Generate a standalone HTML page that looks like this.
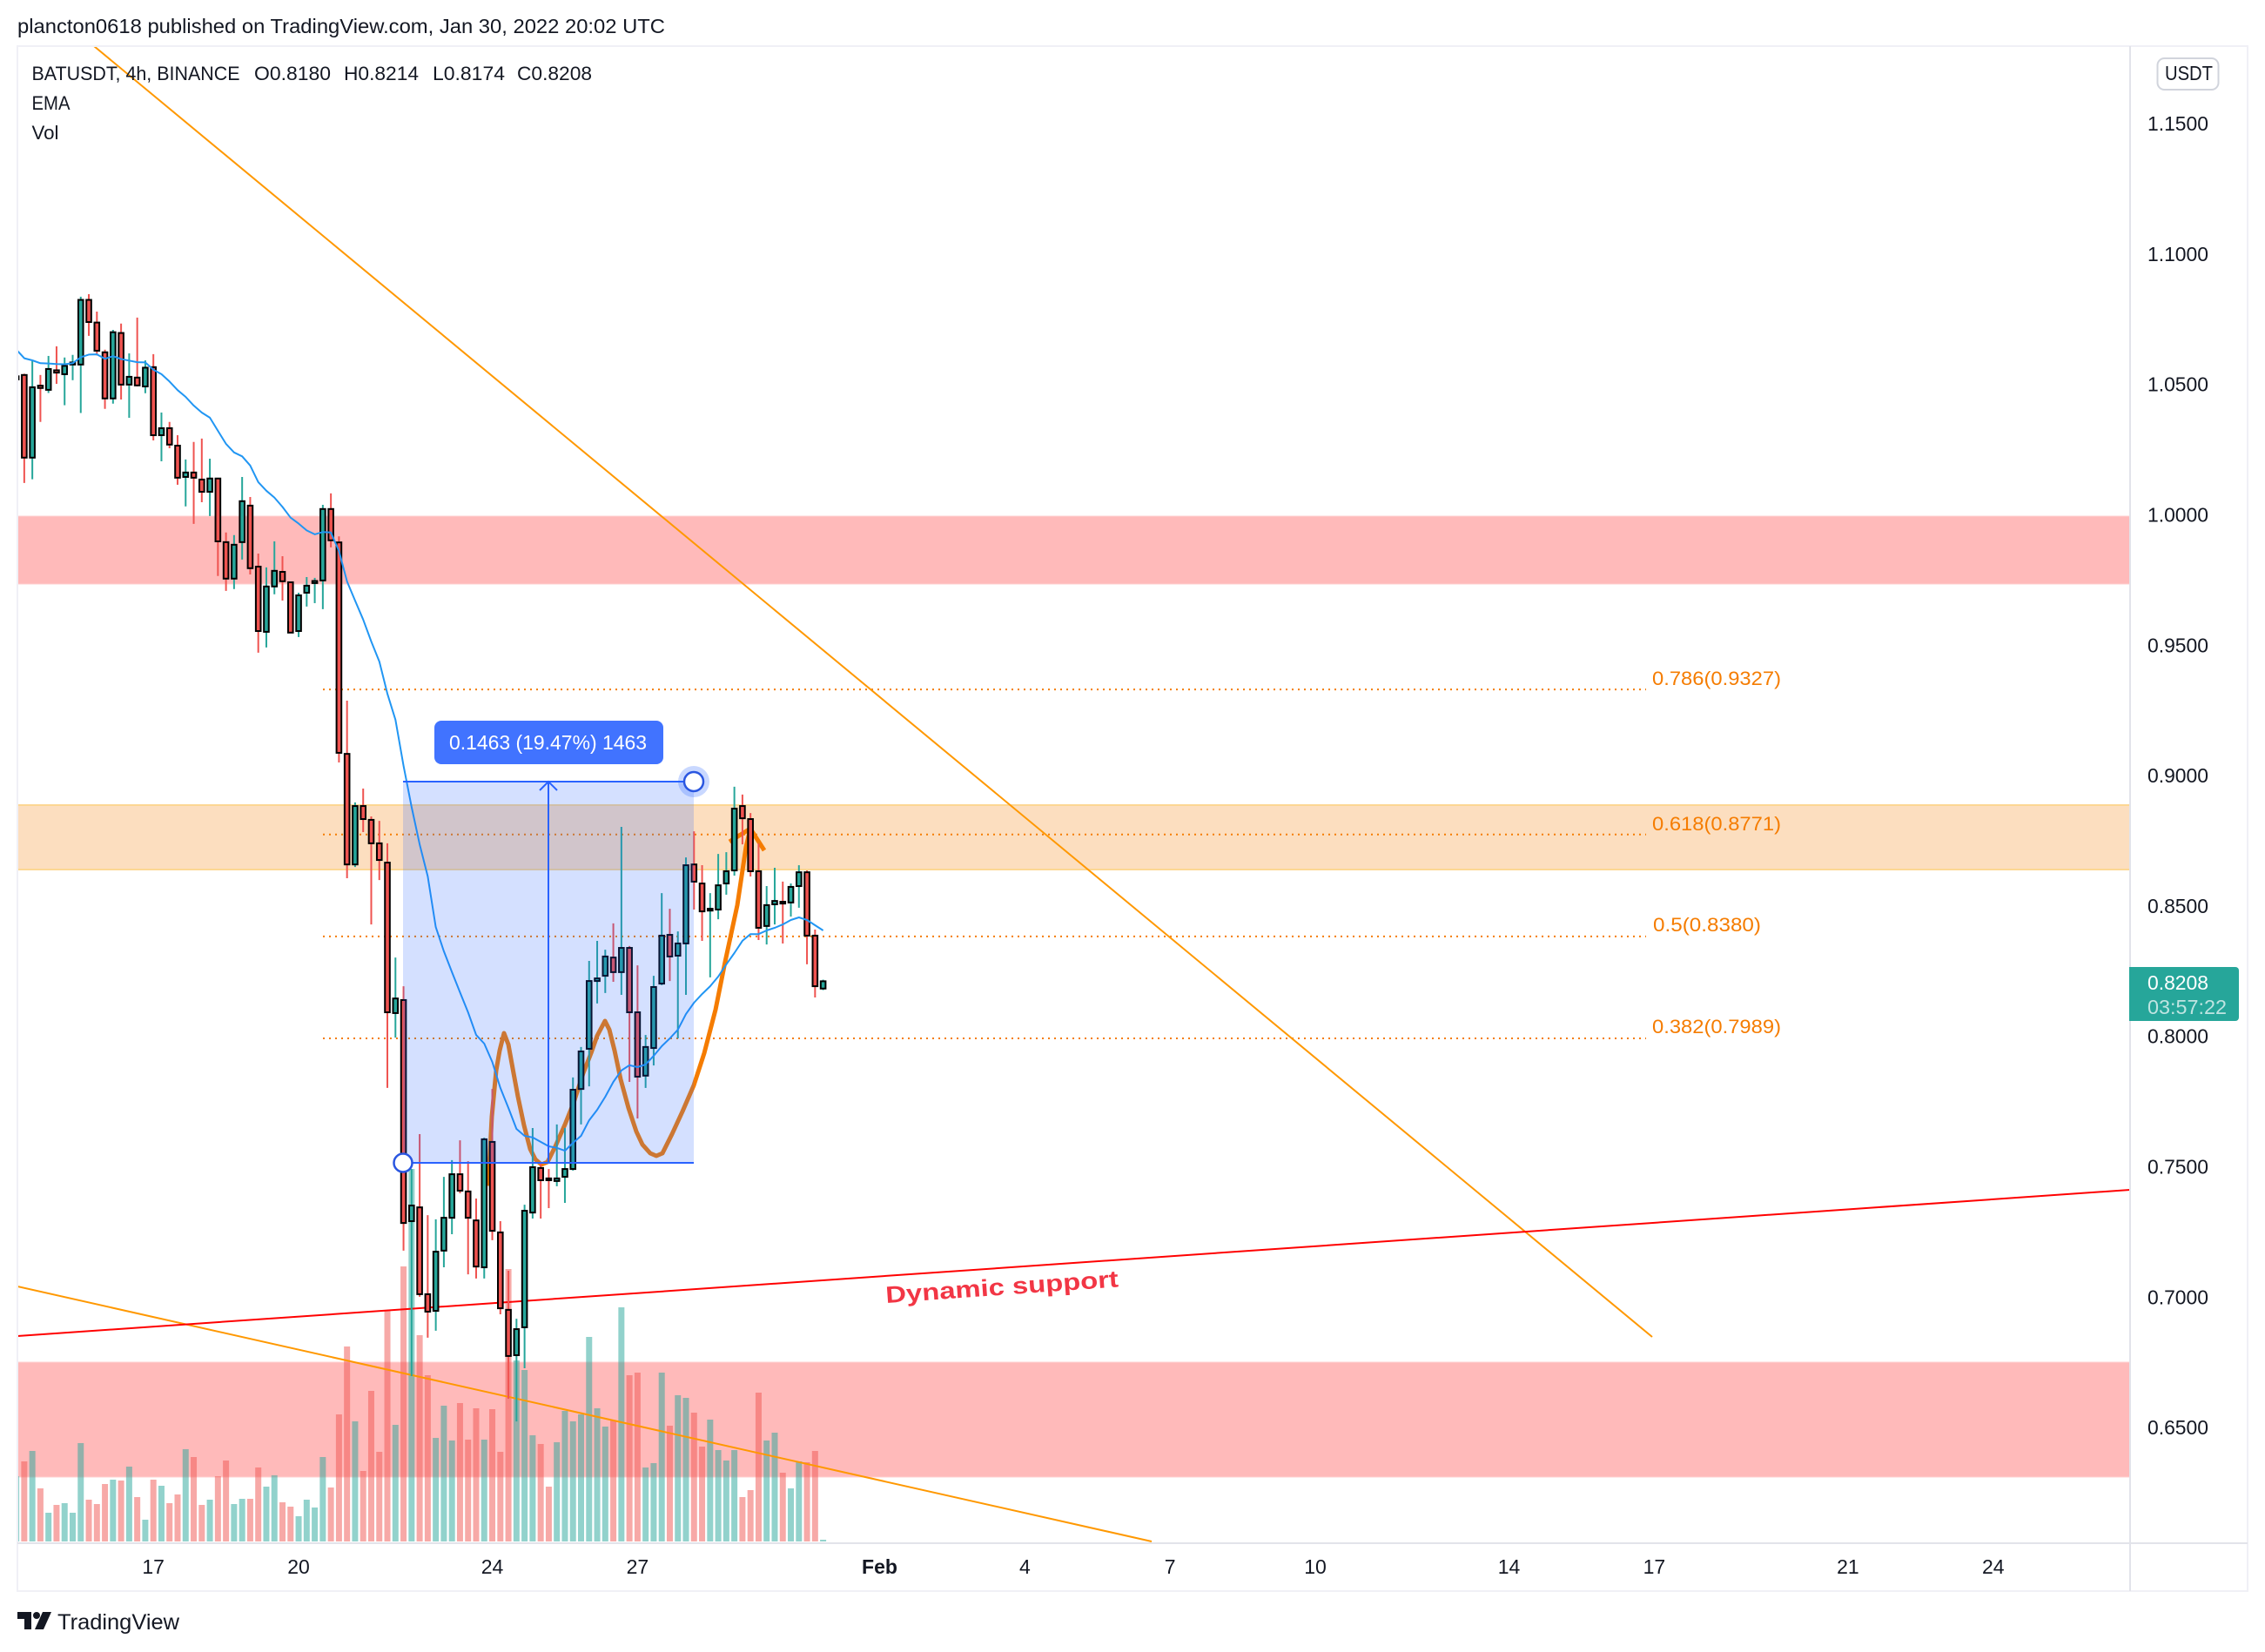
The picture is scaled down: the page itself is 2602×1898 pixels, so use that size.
<!DOCTYPE html>
<html lang="en">
<head>
<meta charset="utf-8">
<title>BATUSDT 4h chart</title>
<style>
html,body{margin:0;padding:0;background:#fff;width:2602px;height:1898px;overflow:hidden}
svg{display:block}
text{font-family:"Liberation Sans",sans-serif;fill:#131722}
</style>
</head>
<body>
<svg id="chart" xmlns="http://www.w3.org/2000/svg" width="2602" height="1898" viewBox="0 0 2602 1898">
  <defs>
    <clipPath id="plot-clip"><rect x="20" y="53" width="2427" height="1719"/></clipPath>
  </defs>
  <rect x="0" y="0" width="2602" height="1898" fill="#ffffff"/>

  <text x="20" y="38" font-size="23" textLength="744" lengthAdjust="spacingAndGlyphs">plancton0618 published on TradingView.com, Jan 30, 2022 20:02 UTC</text>

  <g clip-path="url(#plot-clip)">
    <rect x="20" y="593" width="2427" height="78" fill="#ff5252" fill-opacity="0.4" stroke="#ffd0d0" stroke-width="1"/>
    <rect x="20" y="925" width="2427" height="74" fill="#f57c00" fill-opacity="0.25" stroke="#fcd793" stroke-width="2"/>
    <rect x="20" y="1565" width="2427" height="132" fill="#ff5252" fill-opacity="0.4" stroke="#ffd0d0" stroke-width="1"/>

    <g id="volume-layer"></g>
    <g id="fib-layer"></g>

    <line x1="108" y1="53" x2="1898" y2="1536" stroke="#ff9800" stroke-width="2"/>
    <line x1="20" y1="1478" x2="1323" y2="1771" stroke="#ff9800" stroke-width="2"/>
    <line x1="20" y1="1535" x2="2447" y2="1367" stroke="#ff0000" stroke-width="2"/>

    <polyline fill="none" stroke="#f57c00" stroke-width="5" stroke-linejoin="round" stroke-linecap="round"
      points="561,1360 565,1283 570,1230 574,1207 579,1187 584,1200 590,1233 595,1260 602,1293 609,1320 615,1332 622,1338 629,1335 638,1317 649,1292 659,1267 670,1233 679,1210 686,1190 695,1173 700,1183 706,1207 713,1240 722,1273 731,1300 738,1315 747,1325 754,1328 761,1325 772,1303 784,1277 797,1247 809,1210 822,1160 833,1105 847,1040 857,973 862,952"/>
    <polyline fill="none" stroke="#f57c00" stroke-width="5" stroke-linejoin="round" points="838,967 862,952 878,977"/>

    <g id="candle-layer"></g>
    <polyline id="ema-line" fill="none" stroke="#2196f3" stroke-width="2" stroke-linejoin="round"/>

    <rect x="463" y="898" width="334" height="438" fill="#2962ff" fill-opacity="0.2"/>
    <line x1="463" y1="898" x2="797" y2="898" stroke="#2962ff" stroke-width="2"/>
    <line x1="463" y1="1336" x2="797" y2="1336" stroke="#2962ff" stroke-width="2"/>
    <line x1="630" y1="1336" x2="630" y2="899" stroke="#2962ff" stroke-width="2"/>
    <polyline points="620,908 630,898 640,908" fill="none" stroke="#2962ff" stroke-width="2"/>
    <circle cx="797" cy="898" r="18" fill="#2962ff" fill-opacity="0.25"/>
    <circle cx="797" cy="898" r="11" fill="#ffffff" stroke="#2a56e0" stroke-width="2.5"/>
    <circle cx="463" cy="1336" r="10.5" fill="#ffffff" stroke="#2a56e0" stroke-width="2.5"/>
    <rect x="499" y="828" width="263" height="50" rx="8" fill="#4173ff"/>
    <text x="516" y="861" font-size="23" style="fill:#ffffff" textLength="227" lengthAdjust="spacingAndGlyphs">0.1463 (19.47%) 1463</text>

    <text x="1018" y="1497" font-size="27" font-weight="bold" style="fill:#f23645" textLength="268" lengthAdjust="spacingAndGlyphs" transform="rotate(-4 1018 1497)">Dynamic support</text>

    <text x="1898" y="787" font-size="22" style="fill:#f57c00" textLength="148" lengthAdjust="spacingAndGlyphs">0.786(0.9327)</text>
    <text x="1898" y="954" font-size="22" style="fill:#f57c00" textLength="148" lengthAdjust="spacingAndGlyphs">0.618(0.8771)</text>
    <text x="1899" y="1070" font-size="22" style="fill:#f57c00" textLength="124" lengthAdjust="spacingAndGlyphs">0.5(0.8380)</text>
    <text x="1898" y="1187" font-size="22" style="fill:#f57c00" textLength="148" lengthAdjust="spacingAndGlyphs">0.382(0.7989)</text>

    <text x="36.5" y="92" font-size="22.5" textLength="239" lengthAdjust="spacingAndGlyphs">BATUSDT, 4h, BINANCE</text>
    <text x="292" y="92" font-size="22.5" textLength="88" lengthAdjust="spacingAndGlyphs">O0.8180</text>
    <text x="395" y="92" font-size="22.5" textLength="86" lengthAdjust="spacingAndGlyphs">H0.8214</text>
    <text x="497" y="92" font-size="22.5" textLength="83" lengthAdjust="spacingAndGlyphs">L0.8174</text>
    <text x="594" y="92" font-size="22.5" textLength="86" lengthAdjust="spacingAndGlyphs">C0.8208</text>
    <text x="36.5" y="126" font-size="22.5" textLength="44" lengthAdjust="spacingAndGlyphs">EMA</text>
    <text x="36.5" y="160" font-size="22.5" textLength="31" lengthAdjust="spacingAndGlyphs">Vol</text>
  </g>

  <rect x="20" y="53" width="2562" height="1775" fill="none" stroke="#f0f0f6" stroke-width="2"/>
  <line x1="2447" y1="53" x2="2447" y2="1828" stroke="#e2e3ea" stroke-width="2"/>
  <line x1="20" y1="1773" x2="2582" y2="1773" stroke="#e2e3ea" stroke-width="2"/>

  <g id="price-axis"></g>
  <g id="time-axis"></g>

  <rect x="2478.5" y="67" width="70" height="36" rx="8" fill="#ffffff" stroke="#d1d4dc" stroke-width="2"/>
  <text x="2487" y="92" font-size="23" textLength="55" lengthAdjust="spacingAndGlyphs">USDT</text>

  <path d="M2446,1111 H2568 a4,4 0 0 1 4,4 V1169 a4,4 0 0 1 -4,4 H2446 Z" fill="#26a69a"/>
  <text x="2467" y="1137" font-size="23" style="fill:#ffffff" textLength="70" lengthAdjust="spacingAndGlyphs">0.8208</text>
  <text x="2467" y="1165" font-size="23" style="fill:#bfe4e1" textLength="91" lengthAdjust="spacingAndGlyphs">03:57:22</text>

  <g>
    <path d="M20,1852 H36 V1872 H28 V1860 H20 Z" fill="#131722"/>
    <circle cx="42" cy="1856" r="4" fill="#131722"/>
    <polygon points="49,1852 59,1852 50,1872 40,1872" fill="#131722"/>
    <text x="66" y="1872" font-size="25" textLength="140" lengthAdjust="spacingAndGlyphs">TradingView</text>
  </g>
</svg>

<script>
const opens = [
1.0516,1.0533,1.0216,1.0492,1.0476,1.0551,1.0536,1.0573,1.0573,1.0821,
1.0734,1.0620,1.0443,1.0694,1.0496,1.0523,1.0489,1.0563,1.0302,1.0329,
1.0262,1.0142,1.0159,1.0132,1.0085,1.0136,0.9892,0.9752,0.9892,1.0032,
0.9798,0.9548,0.9722,0.9778,0.9738,0.9551,0.9698,0.9735,0.9745,1.0019,
0.9891,0.9080,0.8656,0.8880,0.8827,0.8737,0.8663,0.8086,0.8136,0.7288,
0.7341,0.7008,0.6944,0.7175,0.7301,0.7468,0.7402,0.7291,0.7111,0.7592,
0.7245,0.6948,0.6774,0.6881,0.7321,0.7492,0.7452,0.7442,0.7458,0.7488,
0.7795,0.7949,0.8209,0.8229,0.8299,0.8243,0.8336,0.8089,0.7846,0.7952,
0.8199,0.8386,0.8306,0.8353,0.8656,0.8583,0.8479,0.8483,0.8583,0.8633,
0.8880,0.8830,0.8630,0.8420,0.8503,0.8513,0.8510,0.8573,0.8626,0.8383,
0.8180];
const highs = [
1.0535,1.0538,1.0586,1.0533,1.0606,1.0643,1.0600,1.0610,1.0833,1.0843,
1.0776,1.0630,1.0706,1.0730,1.0616,1.0753,1.0589,1.0613,1.0389,1.0353,
1.0302,1.0209,1.0276,1.0289,1.0212,1.0136,0.9929,0.9919,1.0142,1.0065,
0.9848,0.9795,0.9895,0.9838,0.9738,0.9698,0.9758,0.9755,1.0035,1.0079,
0.9914,0.9284,0.8894,0.8947,0.8840,0.8823,0.8737,0.8299,0.8189,0.7488,
0.7622,0.7311,0.7295,0.7458,0.7522,0.7598,0.7518,0.7375,0.7608,0.7795,
0.7288,0.7098,0.6914,0.7351,0.7645,0.7509,0.7488,0.7659,0.7645,0.7839,
0.7956,0.8286,0.8363,0.8329,0.8430,0.8800,0.8343,0.8269,0.8002,0.8229,
0.8546,0.8486,0.8399,0.8683,0.8783,0.8653,0.8546,0.8696,0.8703,0.8954,
0.8924,0.8853,0.8737,0.8573,0.8643,0.8590,0.8583,0.8653,0.8633,0.8406,
0.8214];
const lows = [
1.0505,1.0119,1.0133,1.0353,1.0464,1.0499,1.0417,1.0513,1.0387,1.0683,
1.0608,1.0403,1.0423,1.0439,1.0369,1.0489,1.0463,1.0282,1.0202,1.0252,
1.0112,1.0029,0.9962,1.0045,0.9992,0.9762,0.9705,0.9712,0.9825,0.9768,
0.9468,0.9488,0.9692,0.9668,0.9545,0.9528,0.9645,0.9658,0.9635,0.9872,
0.9047,0.8603,0.8646,0.8780,0.8426,0.8596,0.7799,0.7992,0.7175,0.6694,
0.6998,0.6841,0.6868,0.7111,0.7238,0.7395,0.7084,0.7068,0.7068,0.7215,
0.6931,0.6607,0.6520,0.6724,0.7298,0.7298,0.7338,0.7422,0.7358,0.7482,
0.7659,0.7805,0.8123,0.8163,0.8206,0.8156,0.7822,0.7682,0.7799,0.7885,
0.8193,0.8209,0.7989,0.8156,0.8483,0.8363,0.8223,0.8446,0.8540,0.8613,
0.8733,0.8610,0.8366,0.8349,0.8426,0.8353,0.8456,0.8490,0.8273,0.8146,
0.8174];
const closes = [
1.0528,1.0216,1.0486,1.0483,1.0556,1.0542,1.0568,1.0581,1.0821,1.0736,
1.0626,1.0443,1.0697,1.0496,1.0526,1.0493,1.0561,1.0302,1.0329,1.0266,
1.0139,1.0159,1.0139,1.0085,1.0136,0.9895,0.9752,0.9882,1.0049,0.9792,
0.9551,0.9722,0.9782,0.9742,0.9545,0.9688,0.9725,0.9743,1.0019,0.9899,
0.9084,0.8656,0.8880,0.8830,0.8737,0.8673,0.8089,0.8142,0.7281,0.7348,
0.7008,0.6941,0.7171,0.7301,0.7468,0.7405,0.7301,0.7114,0.7602,0.7251,
0.6954,0.6771,0.6874,0.7328,0.7495,0.7445,0.7445,0.7452,0.7488,0.7792,
0.7939,0.8209,0.8219,0.8303,0.8243,0.8336,0.8089,0.7842,0.7956,0.8186,
0.8383,0.8303,0.8353,0.8653,0.8590,0.8476,0.8486,0.8576,0.8630,0.8870,
0.8833,0.8630,0.8413,0.8500,0.8516,0.8506,0.8570,0.8626,0.8383,0.8189,
0.8208];
const volumes = [
225,276,312,183,99,126,132,99,339,144,
129,198,213,210,258,153,75,213,192,132,
162,318,291,126,144,225,279,129,147,147,
255,189,228,135,120,87,144,117,291,186,
438,672,414,243,519,309,798,402,948,1284,
711,573,357,468,348,477,351,459,351,456,
309,939,624,591,366,336,189,342,450,414,
438,705,459,396,417,807,573,582,255,270,
582,399,504,495,444,327,420,315,279,315,
153,177,513,348,375,237,183,276,273,312,
6];
const emaValues = [
1.0631,1.0597,1.0589,1.0578,1.0577,1.0575,1.0574,1.0578,1.0601,1.0611,
1.0612,1.0595,1.0605,1.0594,1.0588,1.0582,1.0581,1.0553,1.0536,1.0508,
1.0475,1.0449,1.0416,1.0389,1.0369,1.0319,1.0269,1.0236,1.0221,1.0186,
1.0122,1.0089,1.0063,1.0027,0.9986,0.9963,0.9937,0.9922,0.9931,0.9929,
0.9858,0.9741,0.9668,0.9595,0.9511,0.9434,0.9311,0.9211,0.9034,0.8877,
0.8733,0.8610,0.8416,0.8323,0.8243,0.8166,0.8089,0.8002,0.7969,0.7899,
0.7799,0.7722,0.7642,0.7615,0.7609,0.7592,0.7575,0.7569,0.7558,0.7588,
0.7615,0.7675,0.7715,0.7765,0.7822,0.7866,0.7886,0.7879,0.7889,0.7922,
0.7959,0.7989,0.8022,0.8082,0.8126,0.8159,0.8189,0.8226,0.8273,0.8316,
0.8363,0.8389,0.8389,0.8403,0.8413,0.8426,0.8443,0.8453,0.8443,0.8423,
0.8403];
const priceTicks = ["1.1500","1.1000","1.0500","1.0000","0.9500","0.9000","0.8500","0.8000","0.7500","0.7000","0.6500"];
const timeLabels = ["17","20","24","27","Feb","4","7","10","14","17","21","24"];
const timeBars = [17,35,59,77,107,125,143,161,185,203,227,245];
const fibLevels = [0.9327,0.8771,0.8380,0.7989];

const NS = "http://www.w3.org/2000/svg";
function x(i){ return 18.6 + 9.27 * i; }
function y(p){ return 590.5 + (1 - p) * 2996; }
function yVol(v){ return 1771 - v / 3; }
function make(tag, attrs){
  const el = document.createElementNS(NS, tag);
  for (const k in attrs) el.setAttribute(k, attrs[k]);
  return el;
}

const volumeLayer = document.getElementById("volume-layer");
volumes.forEach(function(v, i){
  const up = closes[i] >= opens[i];
  const bar = make("rect", {x: x(i) - 3.5, y: yVol(v), width: 7, height: 1771 - yVol(v), fill: up ? "#26a69a" : "#ef5350", "fill-opacity": 0.5});
  
  
  volumeLayer.appendChild(bar);
});

const fibLayer = document.getElementById("fib-layer");
fibLevels.forEach(function(p){
  const level = make("line", {x1: 371, x2: 1891, y1: y(p), y2: y(p), stroke: "#f57c00", "stroke-width": 2, "stroke-dasharray": "2 5"});
  
  
  fibLayer.appendChild(level);
});

const candleLayer = document.getElementById("candle-layer");
opens.forEach(function(o, i){
  const c = closes[i];
  const up = c >= o;
  const color = up ? "#26a69a" : "#ef5350";
  const wick = make("line", {x1: x(i), x2: x(i), y1: y(highs[i]), y2: y(lows[i]), stroke: color, "stroke-width": 2});
  
  
  candleLayer.appendChild(wick);
  const top = y(Math.max(o, c));
  const bottom = y(Math.min(o, c));
  const body = make("rect", {x: x(i) - 2.8, y: top, width: 5.6, height: Math.max(bottom - top, 0.5), fill: color, stroke: "#000000", "stroke-width": 2});
  
  
  candleLayer.appendChild(body);
});

document.getElementById("ema-line").setAttribute("points",
  emaValues.map(function(v, i){ return x(i).toFixed(1) + "," + y(v).toFixed(1); }).join(" "));

const priceAxis = document.getElementById("price-axis");
priceTicks.forEach(function(label){
  const t = make("text", {x: 2467, y: y(parseFloat(label)) + 9, "font-size": 23, textLength: 70, lengthAdjust: "spacingAndGlyphs"});
  
  
  t.textContent = label;
  priceAxis.appendChild(t);
});

const timeAxis = document.getElementById("time-axis");
timeLabels.forEach(function(label, i){
  const t = make("text", {x: x(timeBars[i]), y: 1808, "font-size": 23, "text-anchor": "middle"});
  if (label === "Feb") t.setAttribute("font-weight", "bold");
  
  
  t.textContent = label;
  timeAxis.appendChild(t);
});
</script>
</body>
</html>
